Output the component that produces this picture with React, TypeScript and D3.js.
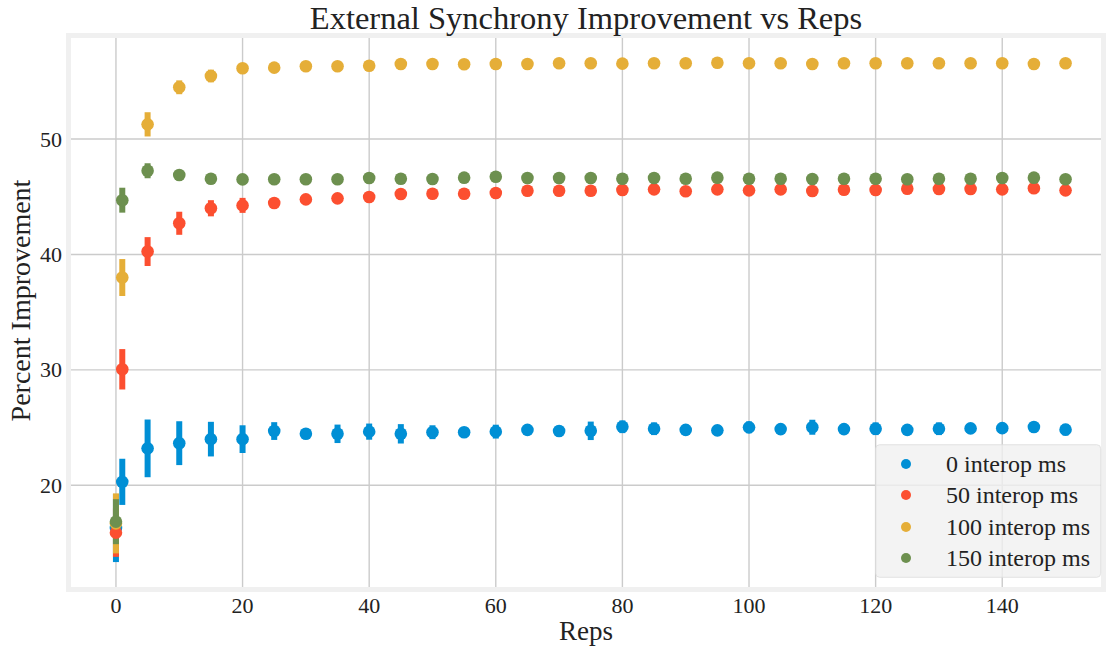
import React, { useEffect, useRef } from "react";
import * as d3 from "d3";

// x values (reps)
const reps = [0, 1, 5, 10, 15, 20, 25, 30, 35, 40, 45, 50, 55, 60, 65, 70, 75, 80, 85, 90, 95, 100, 105, 110, 115, 120, 125, 130, 135, 140, 145, 150];

const seriesNames = ["0 interop ms", "50 interop ms", "100 interop ms", "150 interop ms"];
const seriesColors = ["#008fd5", "#fc4f30", "#e5ae38", "#6d904f"];

// means
const mean0 = [16.3, 20.3, 23.2, 23.65, 24.0, 24.0, 24.7, 24.46, 24.46, 24.65, 24.46, 24.6, 24.6, 24.65, 24.8, 24.7, 24.72, 25.07, 24.9, 24.8, 24.76, 25.02, 24.87, 25.03, 24.87, 24.9, 24.8, 24.9, 24.93, 24.95, 25.05, 24.82];
const mean50 = [15.9, 30.05, 40.25, 42.7, 44.0, 44.25, 44.45, 44.77, 44.86, 44.97, 45.23, 45.26, 45.26, 45.32, 45.52, 45.52, 45.52, 45.58, 45.64, 45.47, 45.64, 45.55, 45.64, 45.49, 45.61, 45.58, 45.69, 45.67, 45.67, 45.64, 45.73, 45.55];
const mean100 = [16.7, 38.0, 51.27, 54.48, 55.46, 56.13, 56.18, 56.3, 56.3, 56.35, 56.5, 56.5, 56.47, 56.5, 56.5, 56.56, 56.56, 56.53, 56.56, 56.56, 56.61, 56.56, 56.56, 56.5, 56.56, 56.56, 56.56, 56.56, 56.56, 56.56, 56.5, 56.56];
const mean150 = [16.85, 44.7, 47.25, 46.88, 46.56, 46.5, 46.51, 46.51, 46.51, 46.62, 46.56, 46.53, 46.65, 46.73, 46.62, 46.62, 46.62, 46.56, 46.62, 46.56, 46.65, 46.56, 46.56, 46.53, 46.56, 46.56, 46.51, 46.56, 46.56, 46.62, 46.65, 46.51];

// error bar half-lengths
const err0 = [2.95, 2.0, 2.5, 1.9, 1.5, 1.2, 0.77, 0.35, 0.8, 0.7, 0.84, 0.6, 0.3, 0.6, 0.25, 0.45, 0.8, 0.55, 0.55, 0.45, 0.45, 0.5, 0.3, 0.65, 0.3, 0.55, 0.4, 0.55, 0.3, 0.3, 0.35, 0.5];
const err50 = [2.1, 1.75, 1.25, 1.0, 0.7, 0.65, 0.4, 0.35, 0.35, 0.4, 0.35, 0.35, 0.3, 0.35, 0.3, 0.35, 0.3, 0.35, 0.3, 0.35, 0.3, 0.3, 0.3, 0.35, 0.3, 0.3, 0.3, 0.3, 0.3, 0.3, 0.3, 0.3];
const err100 = [2.6, 1.6, 1.05, 0.6, 0.55, 0.35, 0.3, 0.25, 0.25, 0.25, 0.25, 0.25, 0.25, 0.25, 0.25, 0.25, 0.25, 0.25, 0.25, 0.25, 0.25, 0.25, 0.25, 0.25, 0.25, 0.25, 0.25, 0.25, 0.25, 0.25, 0.25, 0.25];
const err150 = [1.95, 1.08, 0.65, 0.3, 0.25, 0.25, 0.25, 0.25, 0.25, 0.25, 0.25, 0.25, 0.25, 0.25, 0.25, 0.25, 0.25, 0.25, 0.25, 0.25, 0.25, 0.25, 0.25, 0.25, 0.25, 0.25, 0.25, 0.25, 0.25, 0.25, 0.25, 0.25];

const xTicks = [0, 20, 40, 60, 80, 100, 120, 140];
const yTicks = [20, 30, 40, 50];

const App = () => {
  const svgRef = useRef<SVGSVGElement>(null);

  useEffect(() => {
    const width = 1108;
    const height = 648;
    const left = 71, right = 1101, top = 38, bottom = 587;
    const font = "'Liberation Serif', 'DejaVu Serif', serif";

    const means = [mean0, mean50, mean100, mean150];
    const errs = [err0, err50, err100, err150];

    const x = d3.scaleLinear().domain([-7.1, 155.6]).range([left, right]);
    const y = d3.scaleLinear().domain([11.19, 58.75]).range([bottom, top]);

    const svg = d3.select(svgRef.current)
      .attr("width", width)
      .attr("height", height)
      .attr("viewBox", `0 0 ${width} ${height}`);

    svg.selectAll("*").remove();

    svg.append("rect").attr("width", width).attr("height", height).attr("fill", "white");

    // grid
    const grid = svg.append("g").attr("stroke", "#cbcbcb").attr("stroke-width", 1.4);
    grid.selectAll("line.v").data(xTicks).join("line")
      .attr("x1", d => x(d)).attr("x2", d => x(d))
      .attr("y1", top).attr("y2", bottom);
    grid.selectAll("line.h").data(yTicks).join("line").attr("class", "h")
      .attr("x1", left).attr("x2", right)
      .attr("y1", d => y(d)).attr("y2", d => y(d));

    // frame
    svg.append("rect")
      .attr("x", left - 2.5).attr("y", top - 2.5)
      .attr("width", right - left + 5).attr("height", bottom - top + 5)
      .attr("fill", "none").attr("stroke", "#f0f0f0").attr("stroke-width", 5);

    // error bars first, then markers
    means.forEach((m, s) => {
      svg.append("g").attr("stroke", seriesColors[s]).attr("stroke-width", 6)
        .selectAll("line").data(reps).join("line")
        .attr("x1", d => x(d)).attr("x2", d => x(d))
        .attr("y1", (d, i) => y(m[i] - errs[s][i]))
        .attr("y2", (d, i) => y(m[i] + errs[s][i]));
    });
    means.forEach((m, s) => {
      svg.append("g").attr("fill", seriesColors[s])
        .selectAll("circle").data(reps).join("circle")
        .attr("cx", d => x(d))
        .attr("cy", (d, i) => y(m[i]))
        .attr("r", 6.3);
    });

    // tick labels
    svg.append("g").selectAll("text").data(xTicks).join("text")
      .attr("x", d => x(d)).attr("y", 613)
      .attr("text-anchor", "middle")
      .attr("font-family", font).attr("font-size", 22).attr("fill", "#222")
      .text(d => d);
    svg.append("g").selectAll("text").data(yTicks).join("text")
      .attr("x", 62).attr("y", d => y(d) + 7.5)
      .attr("text-anchor", "end")
      .attr("font-family", font).attr("font-size", 22).attr("fill", "#222")
      .text(d => d);

    // titles
    svg.append("text")
      .attr("x", (left + right) / 2).attr("y", 29)
      .attr("text-anchor", "middle")
      .attr("font-family", font).attr("font-size", 32.5).attr("fill", "#222")
      .text("External Synchrony Improvement vs Reps");
    svg.append("text")
      .attr("x", (left + right) / 2).attr("y", 640)
      .attr("text-anchor", "middle")
      .attr("font-family", font).attr("font-size", 27).attr("fill", "#222")
      .text("Reps");
    svg.append("text")
      .attr("transform", `translate(30,${(top + bottom) / 2 - 12}) rotate(-90)`)
      .attr("text-anchor", "middle")
      .attr("font-family", font).attr("font-size", 28).attr("fill", "#222")
      .text("Percent Improvement");

    // legend
    const lg = svg.append("g");
    lg.append("rect")
      .attr("x", 875.7).attr("y", 444.7).attr("width", 225).attr("height", 132.6)
      .attr("rx", 4)
      .attr("fill", "#f0f0f0").attr("fill-opacity", 0.8)
      .attr("stroke", "#dddddd").attr("stroke-opacity", 0.8);
    const rows = [464, 495, 527, 558];
    seriesNames.forEach((name, i) => {
      lg.append("circle").attr("cx", 906).attr("cy", rows[i]).attr("r", 5).attr("fill", seriesColors[i]);
      lg.append("text")
        .attr("x", 946).attr("y", rows[i] + 8)
        .attr("font-family", font).attr("font-size", 24).attr("fill", "#222")
        .text(name);
    });
  }, []);

  return <svg ref={svgRef} style={{ position: "absolute", left: 0, top: 0, display: "block" }}></svg>;
};

export default App;
